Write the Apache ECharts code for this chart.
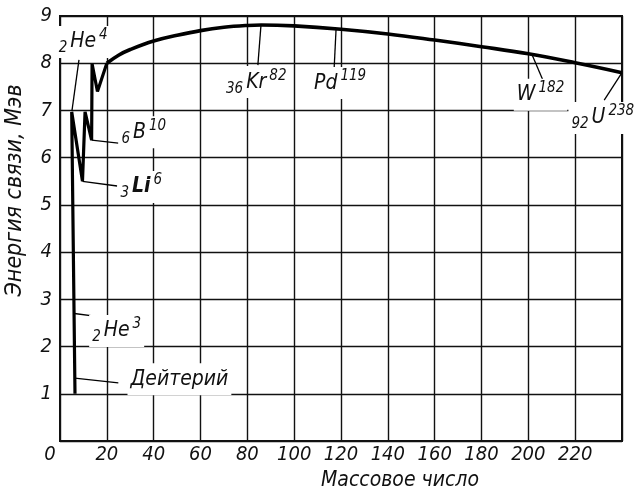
<!DOCTYPE html>
<html>
<head>
<meta charset="utf-8">
<script src="https://cdn.jsdelivr.net/npm/echarts@6/dist/echarts.min.js"></script>
<style>
  html, body { margin: 0; padding: 0; background: #fff; }
  #chart { width: 636px; height: 490px; }
</style>
</head>
<body>
<div id="chart"></div>
<script>
// лёгкие ядра (зигзаг слева)
var lightA = [6.4, 5.0, 9.6, 10.7, 13.5, 13.7, 16.0, 20];
var lightE = [1.0, 6.97, 5.5, 6.97, 6.37, 7.99, 7.4, 8.0];
// основная кривая
var massA = [20, 25, 30, 40, 50, 60, 70, 80, 86, 100, 120, 140, 160, 180, 200, 220, 240];
var bindE = [8.0, 8.17, 8.29, 8.47, 8.59, 8.69, 8.76, 8.80, 8.81, 8.79, 8.72, 8.62, 8.49, 8.35, 8.20, 8.01, 7.80];
// подписи ядер
var noteText = [
	'{s|2}{m|He}{p|4}',
	'{s|6}{m|B}{p|10}',
	'{s|3}{b|Li}{p|6}',
	'{s|2}{m|He}{p|3}',
	'{m|Дейтерий}',
	'{s|36}{m|Kr}{p|82}',
	'{m|Pd}{p|119}',
	'{m|W}{p|182}',
	'{s|92}{m|U}{p|238}'
];
var noteAt = [[9.9, 8.45], [35.8, 6.54], [34.7, 5.38], [24.2, 2.33], [51.0, 1.31], [83.8, 7.60], [119.6, 7.58], [205.2, 7.33], [231.8, 6.84]];
var leadFrom = [[5.1, 6.99], [13.5, 6.37], [9.6, 5.5], [6.1, 2.7], [6.3, 1.33], [85.8, 8.79], [117.9, 8.73], [201.5, 8.19], [240, 7.80]];
var leadTo = [[8.1, 8.07], [24.9, 6.31], [24.4, 5.4], [17.2, 2.63], [24.9, 1.23], [84.5, 7.96], [117.1, 7.92], [207.1, 7.54], [232.4, 7.22]];
var xTicks = [0, 20, 40, 60, 80, 100, 120, 140, 160, 180, 200, 220];
var yTicks = [1, 2, 3, 4, 5, 6, 7, 8, 9];

var FONT = '"DejaVu Sans Condensed", "Liberation Sans Narrow", "DejaVu Sans", sans-serif';
var chart = echarts.init(document.getElementById('chart'));

var lightData = lightA.map(function (a, i) { return [a, lightE[i]]; });
var curveData = massA.map(function (a, i) { return [a, bindE[i]]; });
var noteData = noteText.map(function (t, i) { return { value: noteAt[i], label: { formatter: t } }; });
var leaders = leadFrom.map(function (p, i) { return [{ coord: p }, { coord: leadTo[i] }]; });

chart.setOption({
	animation: false,
	backgroundColor: '#fff',
	grid: {
		left: 60, right: 14, top: 16, bottom: 49, outerBoundsMode: 'none', containLabel: false,
		show: true, borderColor: '#111', borderWidth: 2
	},
	xAxis: {
		type: 'value', min: 0, max: 240, interval: 20,
		name: 'Массовое число', nameLocation: 'middle', nameGap: 26,
		nameTextStyle: { fontFamily: FONT, fontStyle: 'italic', fontSize: 21, color: '#111', padding: [0, 0, 0, 118] },
		axisLine: { show: true, lineStyle: { color: '#111', width: 2 } },
		axisTick: { show: false },
		splitLine: { show: true, lineStyle: { color: '#111', width: 1.4 } },
		axisLabel: {
			fontFamily: FONT, fontStyle: 'italic', fontSize: 20, color: '#111', margin: 4,
			formatter: function (v) {
				if (xTicks.indexOf(v) < 0) return '';
				return v === 0 ? '{z|0}' : String(v);
			},
			rich: { z: { fontFamily: FONT, fontStyle: 'italic', fontSize: 20, color: '#111', padding: [0, 20, 0, 0] } }
		}
	},
	yAxis: {
		type: 'value', min: 0, max: 9, interval: 1,
		name: 'Энергия связи, Мэв', nameLocation: 'middle', nameGap: 33,
		nameTextStyle: { fontFamily: FONT, fontStyle: 'italic', fontSize: 23, color: '#111', padding: [0, 0, 0, 76] },
		axisLine: { show: true, lineStyle: { color: '#111', width: 2 } },
		axisTick: { show: false },
		splitLine: { show: true, lineStyle: { color: '#111', width: 1.4 } },
		axisLabel: {
			fontFamily: FONT, fontStyle: 'italic', fontSize: 20, color: '#111', margin: 8,
			formatter: function (v) { return yTicks.indexOf(v) < 0 ? '' : String(v); }
		}
	},
	series: [
		{
			type: 'line', data: lightData, showSymbol: false, silent: true,
			lineStyle: { color: '#000', width: 3.2 },
			markLine: {
				silent: true, symbol: 'none', animation: false,
				label: { show: false },
				lineStyle: { color: '#000', width: 1.3, type: 'solid' },
				data: leaders
			}
		},
		{
			type: 'line', data: curveData, showSymbol: false, silent: true,
			smooth: 0.4,
			lineStyle: { color: '#000', width: 3.6, join: 'round' }
		},
		{
			type: 'scatter', data: noteData, symbolSize: 0, silent: true, z: 5,
			itemStyle: { opacity: 1 },
			label: {
				show: true, position: 'inside', color: '#111', opacity: 1,
				backgroundColor: '#fff', padding: [2, 3, 2, 3],
				rich: {
					m: { fontFamily: FONT, fontStyle: 'italic', fontSize: 21, color: '#111', lineHeight: 28, verticalAlign: 'middle' },
					b: { fontFamily: FONT, fontStyle: 'italic', fontWeight: 'bold', fontSize: 21, color: '#111', lineHeight: 28, verticalAlign: 'middle' },
					s: { fontFamily: FONT, fontStyle: 'italic', fontSize: 15, color: '#111', lineHeight: 15, verticalAlign: 'bottom', padding: [0, 3, 0, 0] },
					p: { fontFamily: FONT, fontStyle: 'italic', fontSize: 15, color: '#111', lineHeight: 15, verticalAlign: 'top', padding: [0, 0, 0, 3] }
				}
			}
		}
	]
});
</script>
</body>
</html>
